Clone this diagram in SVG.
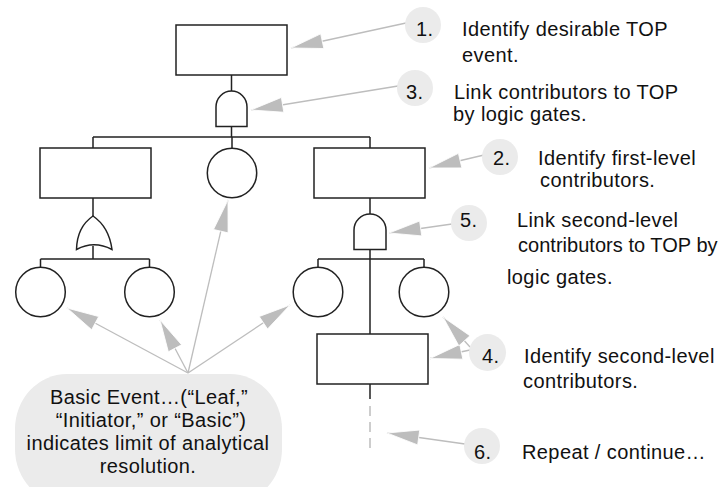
<svg xmlns="http://www.w3.org/2000/svg" width="722" height="487" viewBox="0 0 722 487">
<style>
.n{fill:#fff;stroke:#222;stroke-width:1.5}
.w{fill:none;stroke:#222;stroke-width:1.5}
.g{fill:none;stroke:#bdbdbd;stroke-width:1.3}
.d{fill:none;stroke:#bdbdbd;stroke-width:1.5;stroke-dasharray:10 6}
.b{fill:#ebebeb;stroke:none}
.t{font-family:"Liberation Sans",Arial,Helvetica,sans-serif;font-size:20px;letter-spacing:0.4px;fill:#111}
.c{text-anchor:middle}
</style>
<defs>
<marker id="ah" markerUnits="userSpaceOnUse" viewBox="-34 -10 36 20" markerWidth="36" markerHeight="20" refX="0" refY="0" orient="auto" overflow="visible">
<path d="M0,0 L-32,-7.5 L-32,7.5 Z" fill="#bdbdbd" stroke="#fff" stroke-width="0.8"/>
</marker>
</defs>
<rect width="722" height="487" fill="#fff"/>
<g id="wires">
<path class="w" d="M231.5,75 V91 M231.5,126.5 V137 M93,137 H370 M93,137 V148 M232,137 V148.5 M370,137 V148 M93,198 V217 M93,246 V259 M40.5,259 H149.5 M40.5,259 V267 M149.5,259 V267 M370,198 V214 M370,249 V334 M318,259 H424 M318,259 V267 M424,259 V267 M370,384 V399"/>
<path class="d" d="M370,406 V450"/>
</g>
<g id="top"><rect class="n" x="176" y="25" width="111" height="50"/></g>
<g id="and1"><path class="n" d="M216,126.5 V107 A15.5,16 0 0 1 247,107 V126.5 Z"/></g>
<g id="left"><rect class="n" x="40" y="148" width="111" height="50"/></g>
<g id="mid"><circle class="n" cx="232" cy="173" r="24.7"/></g>
<g id="right"><rect class="n" x="314" y="148" width="111" height="50"/></g>
<g id="or1"><path class="n" d="M76.5,249.5 Q77,227 93,216 Q109,227 112,249.5 Q94,240 76.5,249.5 Z"/></g>
<g id="c1"><circle class="n" cx="40.5" cy="292" r="24.8"/></g>
<g id="c2"><circle class="n" cx="149.5" cy="292" r="24.8"/></g>
<g id="and2"><path class="n" d="M354,249.5 V230 A16,16 0 0 1 386,230 V249.5 Z"/></g>
<g id="c3"><circle class="n" cx="318" cy="292" r="24.8"/></g>
<g id="c4"><circle class="n" cx="424" cy="292" r="24.8"/></g>
<g id="low"><rect class="n" x="317" y="334" width="111" height="50"/></g>
<g id="bubble">
<rect class="b" x="15" y="374" width="267" height="130" rx="52" ry="55"/>
<text class="t c" x="149" y="404">Basic Event…(“Leaf,”</text>
<text class="t c" x="151" y="427">“Initiator,” or “Basic”)</text>
<text class="t c" x="148" y="450">indicates limit of analytical</text>
<text class="t c" x="148" y="473">resolution.</text>
</g>
<g id="arrows">
<path class="g" marker-end="url(#ah)" d="M406,23 L291,48"/>
<path class="g" marker-end="url(#ah)" d="M398,86 L251,110"/>
<path class="g" marker-end="url(#ah)" d="M484,155 L429,168"/>
<path class="g" marker-end="url(#ah)" d="M452,224 L389,233"/>
<path class="g" marker-end="url(#ah)" d="M470,350 L430,358.5"/>
<path class="g" marker-end="url(#ah)" d="M470,347 L443,317"/>
<path class="g" marker-end="url(#ah)" d="M465,444 L387,433"/>
<path class="g" marker-end="url(#ah)" d="M188,373 L67,308"/>
<path class="g" marker-end="url(#ah)" d="M188,373 L160,320"/>
<path class="g" marker-end="url(#ah)" d="M188,373 L228,200"/>
<path class="g" marker-end="url(#ah)" d="M188,373 L290,305"/>
</g>
<g id="s1"><circle class="b" cx="423" cy="25" r="18"/><text class="t" x="416" y="36">1.</text>
<text class="t" x="462" y="36">Identify desirable TOP</text><text class="t" x="462" y="62">event.</text></g>
<g id="s3"><circle class="b" cx="415" cy="88" r="18"/><text class="t" x="406" y="99">3.</text>
<text class="t" x="454" y="99">Link contributors to TOP</text><text class="t" x="453" y="121">by logic gates.</text></g>
<g id="s2"><circle class="b" cx="500" cy="157" r="18"/><text class="t" x="493" y="165">2.</text>
<text class="t" x="538" y="165">Identify first-level</text><text class="t" x="540" y="187">contributors.</text></g>
<g id="s5"><circle class="b" cx="469" cy="223" r="18"/><text class="t" x="460" y="227">5.</text>
<text class="t" x="517" y="227">Link second-level</text><text class="t" x="518" y="252" textLength="200" lengthAdjust="spacing">contributors to TOP by</text><text class="t" x="507" y="284">logic gates.</text></g>
<g id="s4"><circle class="b" cx="487.5" cy="352.5" r="18.5"/><text class="t" x="482" y="363">4.</text>
<text class="t" x="524" y="363">Identify second-level</text><text class="t" x="523" y="388">contributors.</text></g>
<g id="s6"><circle class="b" cx="482" cy="446" r="18"/><text class="t" x="474" y="459">6.</text>
<text class="t" x="522" y="459">Repeat / continue…</text></g>
</svg>
